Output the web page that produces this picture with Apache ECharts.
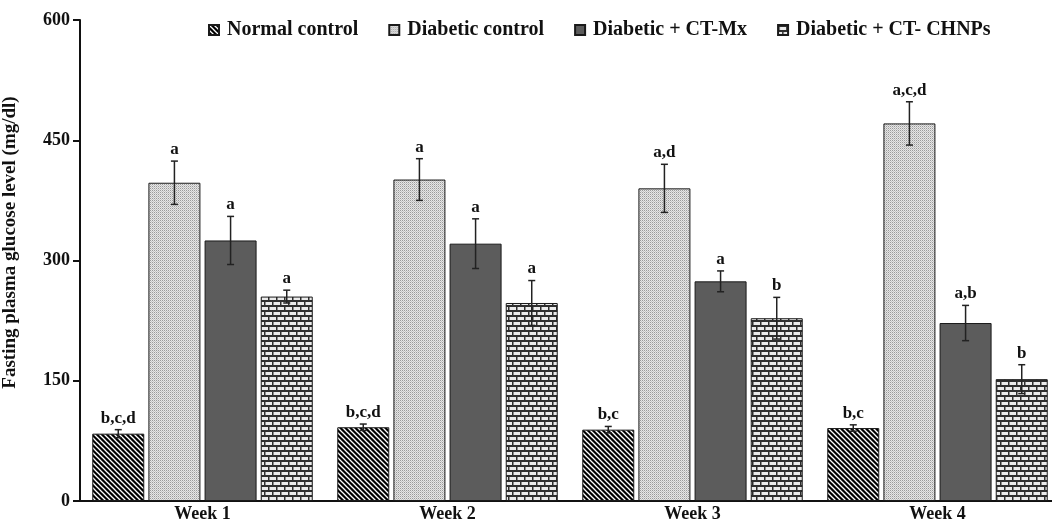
<!DOCTYPE html>
<html>
<head>
<meta charset="utf-8">
<script src="https://cdn.jsdelivr.net/npm/echarts@6/dist/echarts.min.js"></script>
<style>html,body{margin:0;padding:0;background:#fff}#c{width:1052px;height:523px}</style>
</head>
<body>
<div id="c"></div>
<script>
var categories = ['Week 1', 'Week 2', 'Week 3', 'Week 4'];
var seriesNames = ['Normal control', 'Diabetic control', 'Diabetic + CT-Mx', 'Diabetic + CT- CHNPs'];
var normalVals = [84, 92, 89, 91];
var normalErr = [5, 4, 4, 4];
var diabeticVals = [397, 401, 390, 471];
var diabeticErr = [27, 26, 30, 27];
var mxVals = [325, 321, 274, 222];
var mxErr = [30, 31, 13, 22];
var chnpVals = [255, 247, 228, 152];
var chnpErr = [8, 28, 26, 18];
var normalLabels = ['b,c,d', 'b,c,d', 'b,c', 'b,c'];
var diabeticLabels = ['a', 'a', 'a,d', 'a,c,d'];
var mxLabels = ['a', 'a', 'a', 'a,b'];
var chnpLabels = ['a', 'a', 'b', 'b'];
var yTicks = [0, 150, 300, 450, 600];

var FONT = '"Liberation Serif", "Times New Roman", serif';

function mk(w, h, draw) {
  var c = document.createElement('canvas');
  c.width = w; c.height = h;
  draw(c.getContext('2d'), w, h);
  return c;
}
var stripePat = mk(5, 5, function (g, w, h) {
  g.fillStyle = '#000'; g.fillRect(0, 0, w, h);
  g.strokeStyle = '#fff'; g.lineWidth = 1.3;
  for (var k = -w; k <= w; k += w) {
    g.beginPath(); g.moveTo(-1, -1 + k); g.lineTo(w + 1, w + 1 + k); g.stroke();
  }
});
var checkPat = mk(2, 2, function (g) {
  g.fillStyle = '#e6e6e6'; g.fillRect(0, 0, 2, 2);
  g.fillStyle = '#9a9a9a'; g.fillRect(0, 0, 1, 1);
  g.fillStyle = '#c4c4c4'; g.fillRect(1, 1, 1, 1);
});
var brickPat = mk(8, 10, function (g) {
  g.fillStyle = '#ebebeb'; g.fillRect(0, 0, 8, 10);
  g.fillStyle = '#2e2e2e';
  g.fillRect(0, 0, 8, 2); g.fillRect(0, 5, 8, 2);
  g.fillRect(0, 0, 1.5, 5); g.fillRect(4, 5, 1.5, 5);
});

var fills = [
  {image: stripePat, repeat: 'repeat'},
  {image: checkPat, repeat: 'repeat'},
  '#5c5c5c',
  {image: brickPat, repeat: 'repeat'}
];
var values = [normalVals, diabeticVals, mxVals, chnpVals];
var errs = [normalErr, diabeticErr, mxErr, chnpErr];
var labels = [normalLabels, diabeticLabels, mxLabels, chnpLabels];

var BAR_W = 52, BAR_GAP = '8%';

var series = [];
for (var i = 0; i < 4; i++) {
  series.push({
    name: seriesNames[i],
    type: 'bar',
    data: values[i],
    barWidth: BAR_W,
    barGap: BAR_GAP,
    itemStyle: {color: fills[i], borderColor: '#1a1a1a', borderWidth: 1},
    emphasis: {disabled: true}
  });
}
function errRender(si) {
  return function (params, api) {
    var cat = api.value(0), mean = api.value(1), sd = api.value(2);
    var lay = api.barLayout({count: 4, barWidth: BAR_W, barGap: BAR_GAP});
    var off = lay && lay[si] ? lay[si].offsetCenter : (si - 1.5) * (BAR_W * 1.08);
    var top = api.coord([cat, mean + sd]);
    var bot = api.coord([cat, mean - sd]);
    var x = top[0] + off;
    var cw = 3.5;
    var st = {stroke: '#222', lineWidth: 1.5};
    return {
      type: 'group',
      children: [
        {type: 'line', shape: {x1: x, y1: top[1], x2: x, y2: bot[1]}, style: st},
        {type: 'line', shape: {x1: x - cw, y1: top[1], x2: x + cw, y2: top[1]}, style: st},
        {type: 'line', shape: {x1: x - cw, y1: bot[1], x2: x + cw, y2: bot[1]}, style: st},
        {type: 'text', x: x, y: top[1] - 3, style: {
          text: labels[si][params.dataIndex], fill: '#111',
          font: 'bold 17px ' + FONT, align: 'center', verticalAlign: 'bottom'}}
      ]
    };
  };
}
for (var j = 0; j < 4; j++) {
  var d = [];
  for (var k = 0; k < categories.length; k++) d.push([k, values[j][k], errs[j][k]]);
  series.push({
    type: 'custom',
    name: 'err' + j,
    renderItem: errRender(j),
    data: d,
    z: 5,
    silent: true,
    encode: {x: 0, y: 1}
  });
}

var chart = echarts.init(document.getElementById('c'), null, {renderer: 'canvas'});
chart.setOption({
  animation: false,
  backgroundColor: '#fff',
  legend: {
    data: seriesNames,
    left: 203,
    top: 15,
    itemWidth: 10,
    itemHeight: 10,
    itemGap: 30,
    icon: 'rect',
    textStyle: {fontFamily: FONT, fontWeight: 'bold', fontSize: 20, color: '#111', padding: [0, 0, 0, 3]},
    selectedMode: false
  },
  grid: {left: 80, top: 20, bottom: 22, width: 980, outerBoundsMode: 'none', containLabel: false},
  xAxis: {
    type: 'category',
    data: categories,
    axisTick: {show: false},
    axisLine: {lineStyle: {color: '#111', width: 2}},
    axisLabel: {fontFamily: FONT, fontWeight: 'bold', fontSize: 18, color: '#111', margin: 4}
  },
  yAxis: {
    type: 'value',
    min: yTicks[0],
    max: yTicks[yTicks.length - 1],
    interval: yTicks[1] - yTicks[0],
    name: 'Fasting plasma glucose level (mg/dl)',
    nameLocation: 'middle',
    nameGap: 60,
    nameTextStyle: {fontFamily: FONT, fontWeight: 'bold', fontSize: 19, color: '#111', padding: [0, 0, 0, 36]},
    splitLine: {show: false},
    axisLine: {show: true, lineStyle: {color: '#111', width: 2}},
    axisTick: {show: true, length: 7, lineStyle: {color: '#111', width: 2}},
    axisLabel: {fontFamily: FONT, fontWeight: 'bold', fontSize: 18, color: '#111', margin: 10}
  },
  series: series
});
</script>
</body>
</html>
